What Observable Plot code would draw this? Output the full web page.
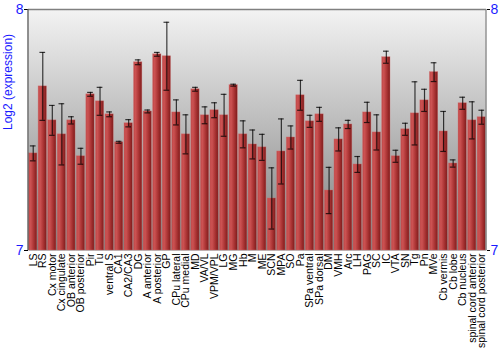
<!DOCTYPE html>
<html>
<head>
<meta charset="utf-8">
<script src="https://cdn.jsdelivr.net/npm/d3@7"></script>
<script src="https://cdn.jsdelivr.net/npm/@observablehq/plot@0.6"></script>
<style>
  html, body { margin: 0; padding: 0; background: #fff; }
  #chart svg { display: block; }
</style>
</head>
<body>
<div id="chart"></div>
<script>
const regions = ["LS","RS","Cx motor","Cx cingulate","OB anterior","OB posterior","Pir","Tu","ventral S","CA1","CA2/CA3","DG","A anterior","A posterior","GP","CPu lateral","CPu medial","MD","VA/VL","VPM/VPL","LG","MG","Hb","M","ME","SCN","MPA","SO","Pa","SPa ventral","SPa dorsal","DM","VMH","Arc","LH","PAG","SC","IC","VTA","SN","Tg","Pn","MVe","Cb vermis","Cb lobe","Cb nucleus","spinal cord anterior","spinal cord posterior"];
const expression = [7.403,7.681,7.540,7.482,7.540,7.391,7.648,7.619,7.565,7.449,7.528,7.781,7.577,7.814,7.806,7.573,7.482,7.669,7.561,7.582,7.561,7.686,7.482,7.440,7.428,7.216,7.411,7.469,7.644,7.536,7.565,7.249,7.461,7.523,7.357,7.573,7.490,7.802,7.391,7.503,7.569,7.623,7.740,7.494,7.361,7.611,7.540,7.553];
const errors = [0.031,0.141,0.062,0.127,0.015,0.033,0.008,0.058,0.010,0.004,0.015,0.010,0.006,0.008,0.141,0.052,0.081,0.008,0.035,0.031,0.087,0.004,0.056,0.060,0.054,0.127,0.135,0.048,0.062,0.025,0.029,0.096,0.048,0.017,0.033,0.042,0.073,0.025,0.025,0.025,0.131,0.046,0.039,0.083,0.015,0.025,0.077,0.029];
const yTicks = [7, 8];
const yLabel = "Log2 (expression)";

const data = regions.map((r, i) => ({region: r, value: expression[i], lo: expression[i] - errors[i], hi: expression[i] + errors[i]}));

const W = 500, H = 350, ML = 28, MR = 14, MT = 9, MB = 100;

const chart = Plot.plot({
  width: W,
  height: H,
  marginLeft: ML,
  marginRight: MR,
  marginTop: MT,
  marginBottom: MB,
  style: {fontFamily: "'Liberation Sans', Arial, sans-serif", background: "#fff"},
  x: {type: "band", domain: regions, paddingInner: 0.13, paddingOuter: 0.06, round: false},
  y: {domain: [7, 8]},
  marks: [
    Plot.frame({fill: "url(#bgGrad)", stroke: null}),
    Plot.barY(data, {x: "region", y1: 7, y2: "value", fill: "url(#barGrad)", stroke: "#d07070", strokeWidth: 0.6, strokeOpacity: 0.6}),
    Plot.ruleX(data, {x: "region", y1: "lo", y2: "hi", stroke: "#000", strokeWidth: 1.2, strokeOpacity: 0.75}),
    Plot.tickY(data, {x: "region", y: "lo", stroke: "#000", strokeWidth: 1.2, strokeOpacity: 0.75, insetLeft: 1.3, insetRight: 1.3}),
    Plot.tickY(data, {x: "region", y: "hi", stroke: "#000", strokeWidth: 1.2, strokeOpacity: 0.75, insetLeft: 1.3, insetRight: 1.3}),
    Plot.ruleY([8], {stroke: "#808080", strokeWidth: 1.3}),
    Plot.axisY({anchor: "left", ticks: yTicks, tickFormat: "d", tickSize: 4, tickPadding: 1, fontSize: 14, color: "#1a1aff", stroke: "#000", label: null}),
    Plot.axisY({anchor: "right", ticks: yTicks, tickFormat: "d", tickSize: 3, tickPadding: 1, fontSize: 14, color: "#1a1aff", stroke: "#000", label: null}),
    Plot.axisX({tickRotate: -90, tickSize: 0, tickPadding: 3, fontSize: 10.5, color: "#000", label: null}),
    Plot.text([yLabel], {frameAnchor: "left", dx: -20, rotate: -90, fill: "#1a1aff", fontSize: 12})
  ]
});

// gradients
const svg = d3.select(chart);
const defs = svg.insert("defs", ":first-child");
const bg = defs.append("linearGradient").attr("id", "bgGrad").attr("x1", 0).attr("y1", 0).attr("x2", 0).attr("y2", 1);
bg.append("stop").attr("offset", "0%").attr("stop-color", "#f3f3f3");
bg.append("stop").attr("offset", "100%").attr("stop-color", "#7e7e7e");
const bar = defs.append("linearGradient").attr("id", "barGrad").attr("x1", 0).attr("y1", 0).attr("x2", 1).attr("y2", 0);
bar.append("stop").attr("offset", "0%").attr("stop-color", "#c04848");
bar.append("stop").attr("offset", "25%").attr("stop-color", "#cc5252");
bar.append("stop").attr("offset", "65%").attr("stop-color", "#a83232");
bar.append("stop").attr("offset", "100%").attr("stop-color", "#7e1c1c");

// axis lines
svg.append("line").attr("x1", W - MR).attr("x2", W - MR).attr("y1", MT).attr("y2", H - MB).attr("stroke", "#888").attr("stroke-width", 1.3);
svg.append("line").attr("x1", ML).attr("x2", ML).attr("y1", MT).attr("y2", H - MB).attr("stroke", "#555").attr("stroke-width", 1.3);

document.getElementById("chart").appendChild(chart);
</script>
</body>
</html>
